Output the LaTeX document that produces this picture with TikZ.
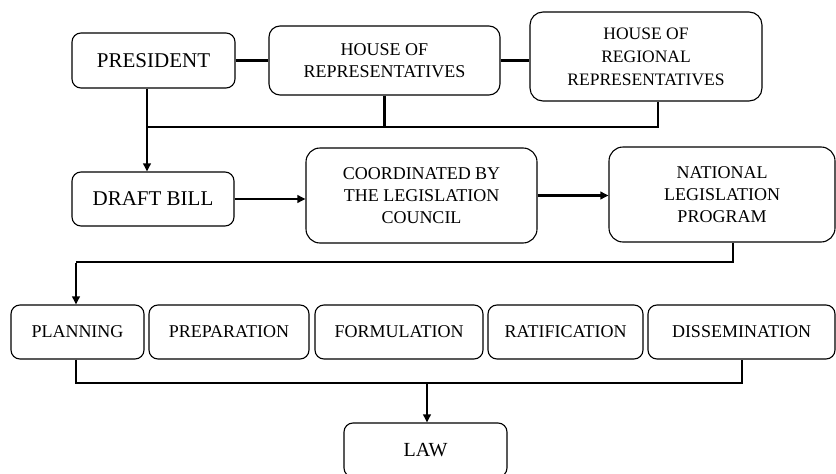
\documentclass[tikz,border=0pt]{standalone}
\usepackage{fontspec}
\setmainfont{Liberation Serif}
\usetikzlibrary{arrows.meta}
\begin{document}
\begin{tikzpicture}[x=1pt,y=-1pt,
  box/.style={draw,line width=1.1pt,rounded corners=9pt,align=center,inner sep=0pt,
    font=\fontsize{18}{22}\selectfont},
  bigtext/.style={font=\fontsize{21}{24}\selectfont},
  conn/.style={line width=2.1pt},
  arr/.style={line width=2.1pt,-{Triangle[length=8pt,width=7.5pt]}}]
\useasboundingbox (0,0) rectangle (836,474);
\clip (0,0) rectangle (836,474);
% top row
\node[box,bigtext,minimum width=163pt,minimum height=55pt] (pres) at (153.5,60.5) {PRESIDENT};
\node[box,minimum width=231pt,minimum height=69pt,rounded corners=11pt] (hor) at (384.5,60.5) {HOUSE OF\\REPRESENTATIVES};
\node[box,minimum width=232pt,minimum height=89pt,rounded corners=13pt,font=\fontsize{17.5}{23}\selectfont] (reg) at (646,56.5) {HOUSE OF\\REGIONAL\\REPRESENTATIVES};
% second row
\node[box,bigtext,minimum width=162pt,minimum height=54pt] (draft) at (153,199) {DRAFT BILL};
\node[box,minimum width=231pt,minimum height=95pt,rounded corners=14pt] (coord) at (421.5,195.5) {COORDINATED BY\\THE LEGISLATION\\COUNCIL};
\node[box,minimum width=226pt,minimum height=95pt,rounded corners=14pt] (nat) at (722,194.5) {NATIONAL\\LEGISLATION\\PROGRAM};
% third row
\node[box,minimum width=133pt,minimum height=54pt] (plan) at (77.5,332) {PLANNING};
\node[box,minimum width=160pt,minimum height=54pt] (prep) at (229,332) {PREPARATION};
\node[box,minimum width=168pt,minimum height=54pt] (form) at (399,332) {FORMULATION};
\node[box,minimum width=155pt,minimum height=54pt] (rat) at (565.5,332) {RATIFICATION};
\node[box,minimum width=187pt,minimum height=54pt] (diss) at (741.5,332) {DISSEMINATION};
% law
\node[box,minimum width=163pt,minimum height=54pt,font=\fontsize{20}{24}\selectfont] (law) at (425.5,450) {LAW};
% connectors top
\draw[conn] (pres.east) -- (hor.west);
\draw[conn] (hor.east) -- (hor.east -| reg.west);
\coordinate (j1) at (147,127);
\coordinate (rs) at ([xshift=12pt]reg.south);
\draw[conn] ([xshift=-6.5pt]pres.south) -- (j1) -- (j1 -| rs) -- (rs);
\draw[conn] (hor.south) -- (hor.south |- j1);
\draw[arr] (j1) -- (j1 |- draft.north);
% second row arrows
\draw[arr] (draft.east) -- (draft.east -| coord.west);
\draw[arr] (coord.east) -- (coord.east -| nat.west);
% to planning
\coordinate (j2) at (733,262);
\coordinate (j3) at (76,262);
\draw[conn] ([xshift=11pt]nat.south) -- (j2) -- (j3);
\draw[arr] ([yshift=-1pt]j3) -- (j3 |- plan.north);
% to law
\coordinate (j4) at (76,383);
\coordinate (j5) at (742,383);
\coordinate (j6) at (427,383);
\draw[conn] ([xshift=-1.5pt]plan.south) -- (j4) -- (j5) -- (j5 |- diss.south);
\draw[arr] (j6) -- (j6 |- law.north);
\end{tikzpicture}
\end{document}
